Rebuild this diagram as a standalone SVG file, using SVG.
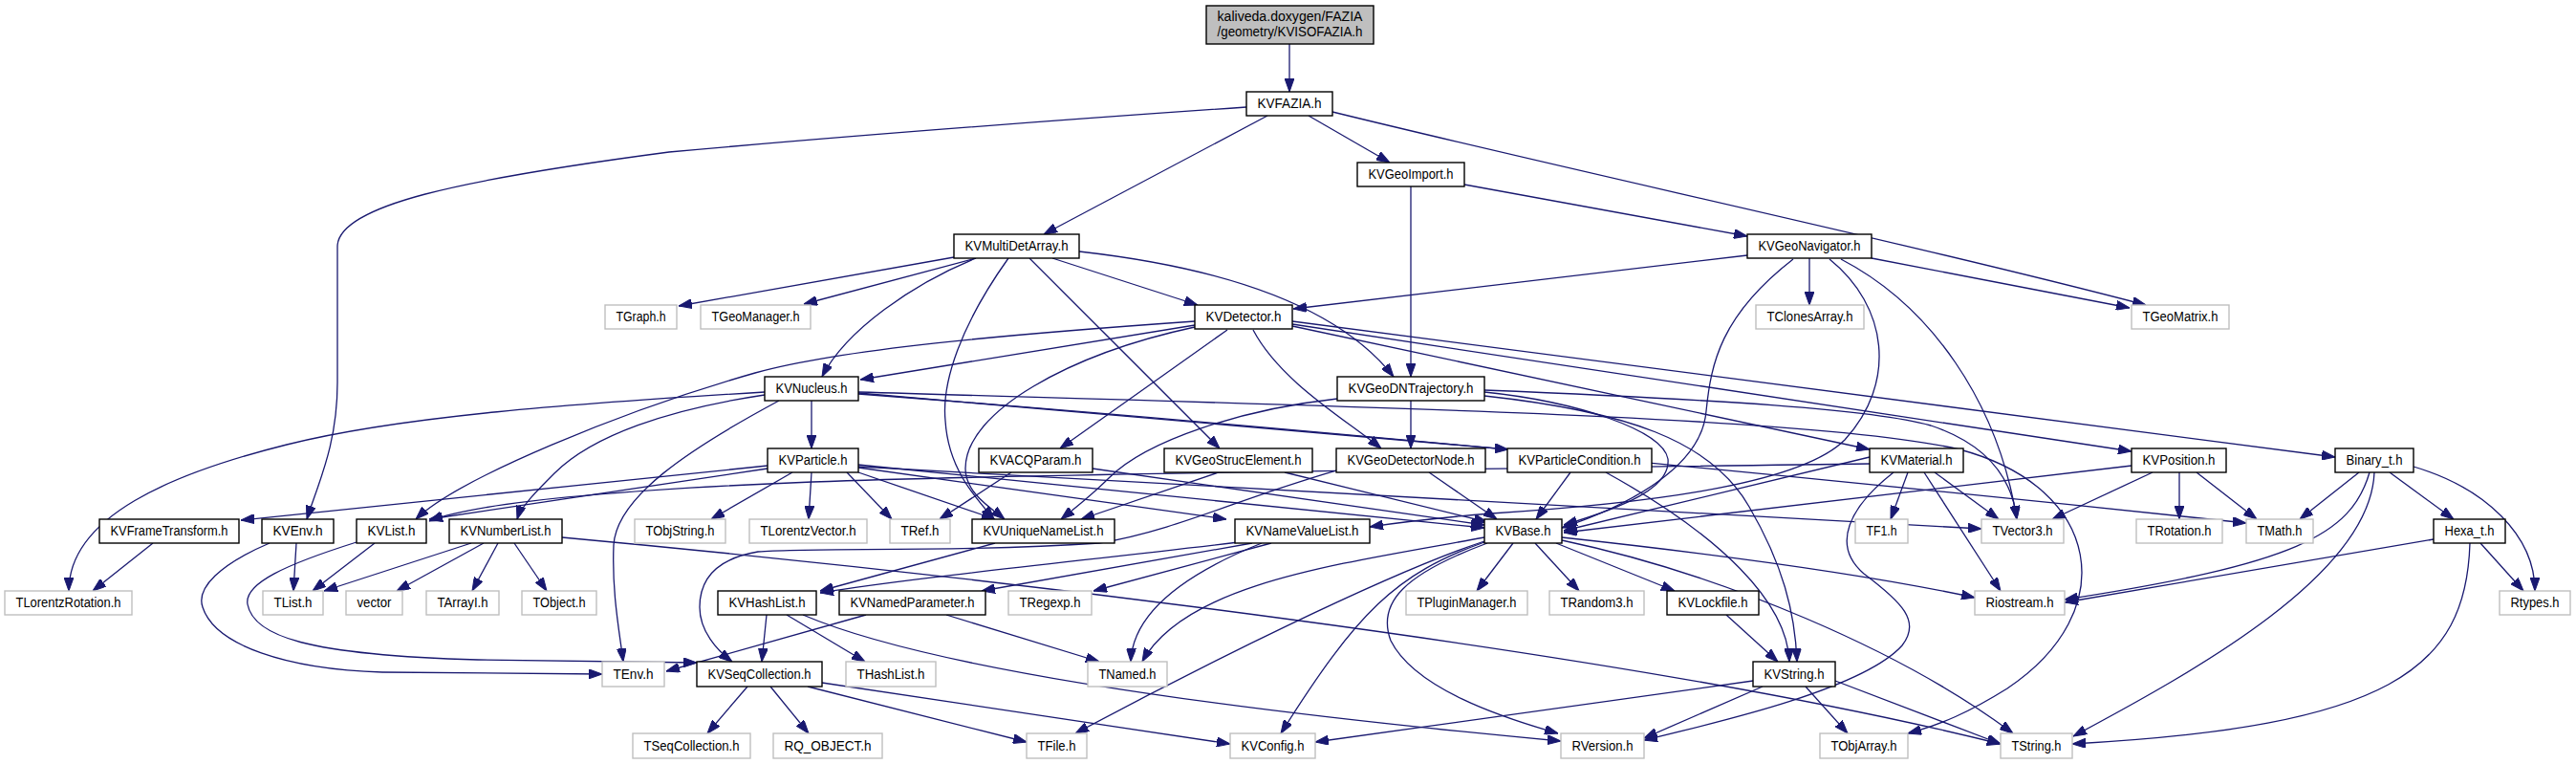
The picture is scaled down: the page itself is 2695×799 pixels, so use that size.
<svg xmlns="http://www.w3.org/2000/svg" width="2695" height="799" viewBox="0 0 2695 799">
<defs>
<style>
.e{fill:none;stroke:#191970;stroke-width:1.3;marker-end:url(#ah)}
.n rect{fill:#fff;stroke:#000;stroke-width:1.4}
.x rect{fill:#fff;stroke:#bfbfbf;stroke-width:1.4}
text{font-family:"Liberation Sans",Arial,Helvetica,sans-serif;font-size:14px;fill:#000;text-anchor:middle}
</style>
<marker id="ah" markerUnits="userSpaceOnUse" markerWidth="14" markerHeight="10" refX="14" refY="5" orient="auto"><path d="M0,0 L14,5 L0,10 z" fill="#191970" stroke="#191970" stroke-width="1"/></marker>
</defs>
<rect width="2695" height="799" fill="#fff"/>
<g id="edges">
<path class="e" d="M1349,46 L1349,96"/>
<path class="e" d="M1304,112 C1100,126 900,141 700,159 C480,188 353,215 353,258 L353,400 C353,465 333,505 321,543"/>
<path class="e" d="M1326,121 L1092,245"/>
<path class="e" d="M1369,121 L1454,170"/>
<path class="e" d="M1394,117 C1650,180 2000,255 2245,319"/>
<path class="e" d="M1532,193 L1828,247"/>
<path class="e" d="M1476,195 L1476,394"/>
<path class="e" d="M998,269 L710,320"/>
<path class="e" d="M1021,270 L841,318"/>
<path class="e" d="M1021,270 C955,297 885,345 860,394"/>
<path class="e" d="M1055,270 C1005,340 985,400 989,440 C992,490 1020,520 1040,543"/>
<path class="e" d="M1077,270 L1276,469"/>
<path class="e" d="M1101,270 L1253,319"/>
<path class="e" d="M1129,263 C1280,280 1400,320 1458,394"/>
<path class="e" d="M1828,267 L1353,323"/>
<path class="e" d="M1893,270 L1893,319"/>
<path class="e" d="M1958,270 L2228,322"/>
<path class="e" d="M1876,271 C1800,330 1790,380 1785,430 C1780,490 1700,530 1634,552"/>
<path class="e" d="M1914,271 C1975,320 1985,400 1930,460 C1880,510 1700,528 1560,537 C1500,542 1460,547 1433,551"/>
<path class="e" d="M1926,271 C2020,320 2090,420 2110,543"/>
<path class="e" d="M1250,336 C1050,350 880,365 790,390 C650,430 480,500 435,543"/>
<path class="e" d="M1250,340 L900,397"/>
<path class="e" d="M1250,342 C1120,370 1010,430 1010,490 C1010,515 1035,530 1051,543"/>
<path class="e" d="M1284,345 L1109,469"/>
<path class="e" d="M1311,345 C1340,400 1410,440 1445,469"/>
<path class="e" d="M1352,336 L2443,478"/>
<path class="e" d="M1352,339 L2230,472"/>
<path class="e" d="M1352,341 L1956,470"/>
<path class="e" d="M849,419 L849,469"/>
<path class="e" d="M800,410 C600,422 420,435 300,465 C180,495 72,540 72,618"/>
<path class="e" d="M800,413 C700,428 620,455 580,495 C560,515 545,530 541,543"/>
<path class="e" d="M815,419 C720,470 645,520 642,570 C640,620 648,660 652,692"/>
<path class="e" d="M898,411 L1578,470"/>
<path class="e" d="M898,412 C1400,450 2000,510 2350,547"/>
<path class="e" d="M898,410 C1400,425 1900,435 2050,470 C2200,510 2220,640 2100,720 C2060,745 2030,758 1996,767"/>
<path class="e" d="M1476,419 L1476,469"/>
<path class="e" d="M1399,417 C1300,428 1200,460 1160,500 C1140,520 1120,535 1110,543"/>
<path class="e" d="M1553,410 C1650,420 1740,450 1745,480 C1748,510 1700,530 1636,549"/>
<path class="e" d="M1553,408 C1800,418 1960,428 2020,445 C2080,465 2105,500 2110,543"/>
<path class="e" d="M1553,414 C1700,430 1790,460 1830,530 C1865,590 1878,640 1880,692"/>
<path class="e" d="M803,487 L252,544"/>
<path class="e" d="M803,490 L449,543"/>
<path class="e" d="M829,494 L744,543"/>
<path class="e" d="M849,494 L846,543"/>
<path class="e" d="M886,494 L933,543"/>
<path class="e" d="M898,494 L1041,543"/>
<path class="e" d="M898,489 L1283,543"/>
<path class="e" d="M898,486 L1553,552"/>
<path class="e" d="M898,488 L2073,553"/>
<path class="e" d="M1058,494 L983,543"/>
<path class="e" d="M1143,490 L1553,549"/>
<path class="e" d="M1275,494 L1131,543"/>
<path class="e" d="M1344,494 L1556,546"/>
<path class="e" d="M1495,494 L1566,543"/>
<path class="e" d="M1398,492 C1300,520 1230,555 1150,568 C1000,578 850,572 793,577 C745,585 732,610 732,635 C732,660 750,680 766,692"/>
<path class="e" d="M1643,494 L1607,543"/>
<path class="e" d="M1680,494 C1800,560 1870,630 1872,692"/>
<path class="e" d="M1956,478 L1636,555"/>
<path class="e" d="M1996,494 L1978,543"/>
<path class="e" d="M2024,494 L2091,543"/>
<path class="e" d="M2013,494 L2093,618"/>
<path class="e" d="M1981,494 C1935,530 1915,570 1950,600 C1990,630 2010,650 1990,675 C1950,720 1800,755 1720,774"/>
<path class="e" d="M1956,485 C1600,490 1100,495 850,504 C650,512 500,525 449,545"/>
<path class="e" d="M2230,487 L1636,557"/>
<path class="e" d="M2252,494 L2147,543"/>
<path class="e" d="M2280,494 L2280,543"/>
<path class="e" d="M2298,494 L2361,543"/>
<path class="e" d="M2468,494 L2406,543"/>
<path class="e" d="M2479,494 C2460,560 2400,590 2160,627"/>
<path class="e" d="M2484,494 C2480,600 2300,700 2169,770"/>
<path class="e" d="M2500,494 L2567,543"/>
<path class="e" d="M2525,488 C2600,510 2652,560 2652,618"/>
<path class="e" d="M2546,564 L2160,630"/>
<path class="e" d="M2584,568 C2580,700 2500,760 2168,778"/>
<path class="e" d="M2595,568 L2640,618"/>
<path class="e" d="M160,568 L97,618"/>
<path class="e" d="M310,568 L307,618"/>
<path class="e" d="M282,568 C230,590 205,615 212,635 C225,675 300,700 400,703 L630,705"/>
<path class="e" d="M392,568 L327,618"/>
<path class="e" d="M373,567 C300,590 255,610 259,632 C265,665 320,685 500,690 L729,693"/>
<path class="e" d="M493,568 L339,618"/>
<path class="e" d="M506,568 L415,618"/>
<path class="e" d="M521,568 L494,618"/>
<path class="e" d="M538,568 L572,618"/>
<path class="e" d="M588,562 C1000,600 1700,680 2093,778"/>
<path class="e" d="M1041,568 L858,618"/>
<path class="e" d="M1296,567 C1100,590 950,605 858,620"/>
<path class="e" d="M1310,568 L1027,618"/>
<path class="e" d="M1330,568 L1144,618"/>
<path class="e" d="M1320,568 C1240,600 1185,640 1183,692"/>
<path class="e" d="M1583,568 L1545,618"/>
<path class="e" d="M1606,568 L1652,618"/>
<path class="e" d="M1628,568 L1752,618"/>
<path class="e" d="M1634,562 C1800,580 1950,600 2066,625"/>
<path class="e" d="M1634,565 C1800,600 1990,680 2106,767"/>
<path class="e" d="M1553,562 C1400,590 1240,610 1195,692"/>
<path class="e" d="M1553,566 C1450,600 1250,700 1125,767"/>
<path class="e" d="M1553,567 C1460,600 1420,640 1340,767"/>
<path class="e" d="M1556,568 C1470,600 1440,630 1455,670 C1480,720 1570,750 1630,767"/>
<path class="e" d="M802,643 L797,692"/>
<path class="e" d="M823,643 L905,692"/>
<path class="e" d="M840,643 C950,690 1200,735 1633,775"/>
<path class="e" d="M906,643 L697,702"/>
<path class="e" d="M990,643 L1150,692"/>
<path class="e" d="M782,718 L740,767"/>
<path class="e" d="M806,718 L846,767"/>
<path class="e" d="M845,718 L1074,776"/>
<path class="e" d="M860,714 L1287,778"/>
<path class="e" d="M1806,643 L1860,692"/>
<path class="e" d="M1834,712 L1376,776"/>
<path class="e" d="M1844,718 L1720,772"/>
<path class="e" d="M1889,718 L1933,767"/>
<path class="e" d="M1920,712 L2093,778"/>
</g>
<g id="n0" class="n"><rect x="1262" y="6" width="175" height="40" style="fill:#bfbfbf"/><text x="1349.5" y="21.5" textLength="152" lengthAdjust="spacingAndGlyphs">kaliveda.doxygen/FAZIA</text><text x="1349.5" y="37.5" textLength="152" lengthAdjust="spacingAndGlyphs">/geometry/KVISOFAZIA.h</text></g>
<g id="KVFAZIA" class="n"><rect x="1304" y="96" width="90" height="25"/><text x="1349" y="113" textLength="67" lengthAdjust="spacingAndGlyphs">KVFAZIA.h</text></g>
<g id="KVGeoImport" class="n"><rect x="1420" y="170" width="112" height="25"/><text x="1476" y="187" textLength="89" lengthAdjust="spacingAndGlyphs">KVGeoImport.h</text></g>
<g id="KVMultiDetArray" class="n"><rect x="998" y="245" width="131" height="25"/><text x="1063.5" y="262" textLength="108" lengthAdjust="spacingAndGlyphs">KVMultiDetArray.h</text></g>
<g id="KVGeoNavigator" class="n"><rect x="1828" y="245" width="130" height="25"/><text x="1893" y="262" textLength="107" lengthAdjust="spacingAndGlyphs">KVGeoNavigator.h</text></g>
<g id="TGraph" class="x"><rect x="633" y="319" width="75" height="25"/><text x="670.5" y="336" textLength="52" lengthAdjust="spacingAndGlyphs">TGraph.h</text></g>
<g id="TGeoManager" class="x"><rect x="733" y="319" width="115" height="25"/><text x="790.5" y="336" textLength="92" lengthAdjust="spacingAndGlyphs">TGeoManager.h</text></g>
<g id="KVDetector" class="n"><rect x="1250" y="319" width="102" height="25"/><text x="1301" y="336" textLength="79" lengthAdjust="spacingAndGlyphs">KVDetector.h</text></g>
<g id="TClonesArray" class="x"><rect x="1837" y="319" width="113" height="25"/><text x="1893.5" y="336" textLength="90" lengthAdjust="spacingAndGlyphs">TClonesArray.h</text></g>
<g id="TGeoMatrix" class="x"><rect x="2230" y="319" width="102" height="25"/><text x="2281" y="336" textLength="79" lengthAdjust="spacingAndGlyphs">TGeoMatrix.h</text></g>
<g id="KVNucleus" class="n"><rect x="800" y="394" width="98" height="25"/><text x="849" y="411" textLength="75" lengthAdjust="spacingAndGlyphs">KVNucleus.h</text></g>
<g id="KVGeoDNTrajectory" class="n"><rect x="1399" y="394" width="154" height="25"/><text x="1476" y="411" textLength="131" lengthAdjust="spacingAndGlyphs">KVGeoDNTrajectory.h</text></g>
<g id="KVParticle" class="n"><rect x="803" y="469" width="95" height="25"/><text x="850.5" y="486" textLength="72" lengthAdjust="spacingAndGlyphs">KVParticle.h</text></g>
<g id="KVACQParam" class="n"><rect x="1024" y="469" width="119" height="25"/><text x="1083.5" y="486" textLength="96" lengthAdjust="spacingAndGlyphs">KVACQParam.h</text></g>
<g id="KVGeoStrucElement" class="n"><rect x="1218" y="469" width="155" height="25"/><text x="1295.5" y="486" textLength="132" lengthAdjust="spacingAndGlyphs">KVGeoStrucElement.h</text></g>
<g id="KVGeoDetectorNode" class="n"><rect x="1398" y="469" width="156" height="25"/><text x="1476" y="486" textLength="133" lengthAdjust="spacingAndGlyphs">KVGeoDetectorNode.h</text></g>
<g id="KVParticleCondition" class="n"><rect x="1577" y="469" width="151" height="25"/><text x="1652.5" y="486" textLength="128" lengthAdjust="spacingAndGlyphs">KVParticleCondition.h</text></g>
<g id="KVMaterial" class="n"><rect x="1956" y="469" width="98" height="25"/><text x="2005" y="486" textLength="75" lengthAdjust="spacingAndGlyphs">KVMaterial.h</text></g>
<g id="KVPosition" class="n"><rect x="2230" y="469" width="99" height="25"/><text x="2279.5" y="486" textLength="76" lengthAdjust="spacingAndGlyphs">KVPosition.h</text></g>
<g id="Binary_t" class="n"><rect x="2443" y="469" width="82" height="25"/><text x="2484" y="486" textLength="59" lengthAdjust="spacingAndGlyphs">Binary_t.h</text></g>
<g id="KVFrameTransform" class="n"><rect x="104" y="543" width="146" height="25"/><text x="177" y="560" textLength="123" lengthAdjust="spacingAndGlyphs">KVFrameTransform.h</text></g>
<g id="KVEnv" class="n"><rect x="274" y="543" width="75" height="25"/><text x="311.5" y="560" textLength="52" lengthAdjust="spacingAndGlyphs">KVEnv.h</text></g>
<g id="KVList" class="n"><rect x="373" y="543" width="73" height="25"/><text x="409.5" y="560" textLength="50" lengthAdjust="spacingAndGlyphs">KVList.h</text></g>
<g id="KVNumberList" class="n"><rect x="470" y="543" width="118" height="25"/><text x="529" y="560" textLength="95" lengthAdjust="spacingAndGlyphs">KVNumberList.h</text></g>
<g id="TObjString" class="x"><rect x="664" y="543" width="95" height="25"/><text x="711.5" y="560" textLength="72" lengthAdjust="spacingAndGlyphs">TObjString.h</text></g>
<g id="TLorentzVector" class="x"><rect x="784" y="543" width="123" height="25"/><text x="845.5" y="560" textLength="100" lengthAdjust="spacingAndGlyphs">TLorentzVector.h</text></g>
<g id="TRef" class="x"><rect x="931" y="543" width="63" height="25"/><text x="962.5" y="560" textLength="40" lengthAdjust="spacingAndGlyphs">TRef.h</text></g>
<g id="KVUniqueNameList" class="n"><rect x="1017" y="543" width="149" height="25"/><text x="1091.5" y="560" textLength="126" lengthAdjust="spacingAndGlyphs">KVUniqueNameList.h</text></g>
<g id="KVNameValueList" class="n"><rect x="1292" y="543" width="141" height="25"/><text x="1362.5" y="560" textLength="118" lengthAdjust="spacingAndGlyphs">KVNameValueList.h</text></g>
<g id="KVBase" class="n"><rect x="1553" y="543" width="81" height="25"/><text x="1593.5" y="560" textLength="58" lengthAdjust="spacingAndGlyphs">KVBase.h</text></g>
<g id="TF1" class="x"><rect x="1941" y="543" width="55" height="25"/><text x="1968.5" y="560" textLength="32" lengthAdjust="spacingAndGlyphs">TF1.h</text></g>
<g id="TVector3" class="x"><rect x="2073" y="543" width="86" height="25"/><text x="2116" y="560" textLength="63" lengthAdjust="spacingAndGlyphs">TVector3.h</text></g>
<g id="TRotation" class="x"><rect x="2235" y="543" width="90" height="25"/><text x="2280" y="560" textLength="67" lengthAdjust="spacingAndGlyphs">TRotation.h</text></g>
<g id="TMath" class="x"><rect x="2350" y="543" width="70" height="25"/><text x="2385" y="560" textLength="47" lengthAdjust="spacingAndGlyphs">TMath.h</text></g>
<g id="Hexa_t" class="n"><rect x="2546" y="543" width="75" height="25"/><text x="2583.5" y="560" textLength="52" lengthAdjust="spacingAndGlyphs">Hexa_t.h</text></g>
<g id="TLorentzRotation" class="x"><rect x="5" y="618" width="133" height="25"/><text x="71.5" y="635" textLength="110" lengthAdjust="spacingAndGlyphs">TLorentzRotation.h</text></g>
<g id="TList" class="x"><rect x="275" y="618" width="63" height="25"/><text x="306.5" y="635" textLength="40" lengthAdjust="spacingAndGlyphs">TList.h</text></g>
<g id="vector" class="x"><rect x="362" y="618" width="59" height="25"/><text x="391.5" y="635" textLength="36" lengthAdjust="spacingAndGlyphs">vector</text></g>
<g id="TArrayI" class="x"><rect x="446" y="618" width="76" height="25"/><text x="484" y="635" textLength="53" lengthAdjust="spacingAndGlyphs">TArrayI.h</text></g>
<g id="TObject" class="x"><rect x="546" y="618" width="78" height="25"/><text x="585" y="635" textLength="55" lengthAdjust="spacingAndGlyphs">TObject.h</text></g>
<g id="KVHashList" class="n"><rect x="751" y="618" width="103" height="25"/><text x="802.5" y="635" textLength="80" lengthAdjust="spacingAndGlyphs">KVHashList.h</text></g>
<g id="KVNamedParameter" class="n"><rect x="878" y="618" width="153" height="25"/><text x="954.5" y="635" textLength="130" lengthAdjust="spacingAndGlyphs">KVNamedParameter.h</text></g>
<g id="TRegexp" class="x"><rect x="1055" y="618" width="87" height="25"/><text x="1098.5" y="635" textLength="64" lengthAdjust="spacingAndGlyphs">TRegexp.h</text></g>
<g id="TPluginManager" class="x"><rect x="1471" y="618" width="127" height="25"/><text x="1534.5" y="635" textLength="104" lengthAdjust="spacingAndGlyphs">TPluginManager.h</text></g>
<g id="TRandom3" class="x"><rect x="1621" y="618" width="99" height="25"/><text x="1670.5" y="635" textLength="76" lengthAdjust="spacingAndGlyphs">TRandom3.h</text></g>
<g id="KVLockfile" class="n"><rect x="1744" y="618" width="96" height="25"/><text x="1792" y="635" textLength="73" lengthAdjust="spacingAndGlyphs">KVLockfile.h</text></g>
<g id="Riostream" class="x"><rect x="2066" y="618" width="94" height="25"/><text x="2113" y="635" textLength="71" lengthAdjust="spacingAndGlyphs">Riostream.h</text></g>
<g id="Rtypes" class="x"><rect x="2615" y="618" width="74" height="25"/><text x="2652" y="635" textLength="51" lengthAdjust="spacingAndGlyphs">Rtypes.h</text></g>
<g id="TEnv" class="x"><rect x="630" y="692" width="65" height="26"/><text x="662.5" y="710" textLength="42" lengthAdjust="spacingAndGlyphs">TEnv.h</text></g>
<g id="KVSeqCollection" class="n"><rect x="729" y="692" width="131" height="26"/><text x="794.5" y="710" textLength="108" lengthAdjust="spacingAndGlyphs">KVSeqCollection.h</text></g>
<g id="THashList" class="x"><rect x="885" y="692" width="94" height="26"/><text x="932" y="710" textLength="71" lengthAdjust="spacingAndGlyphs">THashList.h</text></g>
<g id="TNamed" class="x"><rect x="1138" y="692" width="83" height="26"/><text x="1179.5" y="710" textLength="60" lengthAdjust="spacingAndGlyphs">TNamed.h</text></g>
<g id="KVString" class="n"><rect x="1834" y="692" width="86" height="26"/><text x="1877" y="710" textLength="63" lengthAdjust="spacingAndGlyphs">KVString.h</text></g>
<g id="TSeqCollection" class="x"><rect x="662" y="767" width="123" height="26"/><text x="723.5" y="785" textLength="100" lengthAdjust="spacingAndGlyphs">TSeqCollection.h</text></g>
<g id="RQ_OBJECT" class="x"><rect x="809" y="767" width="114" height="26"/><text x="866" y="785" textLength="91" lengthAdjust="spacingAndGlyphs">RQ_OBJECT.h</text></g>
<g id="TFile" class="x"><rect x="1074" y="767" width="63" height="26"/><text x="1105.5" y="785" textLength="40" lengthAdjust="spacingAndGlyphs">TFile.h</text></g>
<g id="KVConfig" class="x"><rect x="1287" y="767" width="89" height="26"/><text x="1331.5" y="785" textLength="66" lengthAdjust="spacingAndGlyphs">KVConfig.h</text></g>
<g id="RVersion" class="x"><rect x="1633" y="767" width="87" height="26"/><text x="1676.5" y="785" textLength="64" lengthAdjust="spacingAndGlyphs">RVersion.h</text></g>
<g id="TObjArray" class="x"><rect x="1904" y="767" width="92" height="26"/><text x="1950" y="785" textLength="69" lengthAdjust="spacingAndGlyphs">TObjArray.h</text></g>
<g id="TString" class="x"><rect x="2093" y="767" width="75" height="26"/><text x="2130.5" y="785" textLength="52" lengthAdjust="spacingAndGlyphs">TString.h</text></g>
</svg>
